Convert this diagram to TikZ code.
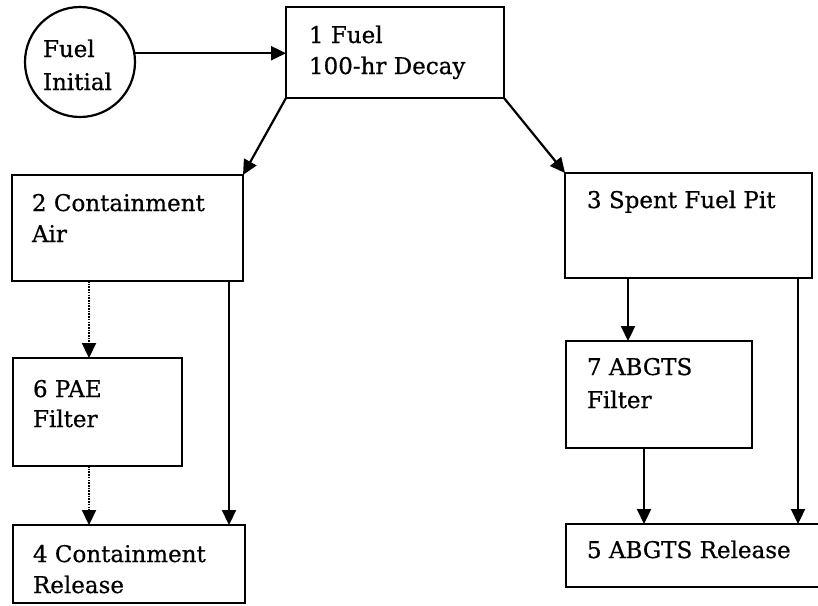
\documentclass[tikz,border=0pt]{standalone}
\usepackage{fontspec}
\setmainfont{DejaVu Serif}[UprightFeatures={FakeBold=0.6}]
\usetikzlibrary{arrows.meta}
\begin{document}
\begin{tikzpicture}[x=1pt,y=-1pt,
  box/.style={draw, line width=2.4pt, rectangle, inner sep=0pt, outer sep=0pt, anchor=north west},
  lbl/.style={anchor=base west, inner sep=0pt, outer sep=0pt, font=\fontsize{23}{31}\selectfont},
  arr/.style={line width=2.2pt, -{Triangle[length=15pt,width=14pt]}},
  dotarr/.style={line width=2.2pt, dash pattern=on 1.6pt off 1.1pt, -{Triangle[length=15pt,width=14pt]}}
]
\useasboundingbox[fill=white] (0,0) rectangle (818,605);

% boxes
\node[draw, circle, line width=2.2pt, minimum size=110pt, inner sep=0pt] (c0) at (80,62) {};
\node[box, minimum width=218pt, minimum height=91pt]  (b1) at (286,7) {};
\node[box, minimum width=231pt, minimum height=106pt] (b2) at (12,175) {};
\node[box, minimum width=247pt, minimum height=105pt] (b3) at (565,173) {};
\node[box, minimum width=169pt, minimum height=108pt] (b6) at (13,358) {};
\node[box, minimum width=232pt, minimum height=78pt]  (b4) at (13,525) {};
\node[box, minimum width=186pt, minimum height=107pt] (b7) at (566,341) {};
\node[box, minimum width=260pt, minimum height=63pt]  (b5) at (566,524) {};

% labels
\node[lbl] (t0) at (43,57) {\fontsize{23}{33}\selectfont\begin{tabular}[t]{@{}l@{}}Fuel\\Initial\end{tabular}};
\node[lbl] (t1) at ([xshift=23pt,yshift=-36pt]b1.north west) {\begin{tabular}[t]{@{}l@{}}1 Fuel\\100-hr Decay\end{tabular}};
\node[lbl] (t2) at ([xshift=20pt,yshift=-36pt]b2.north west) {\begin{tabular}[t]{@{}l@{}}2 Containment\\Air\end{tabular}};
\node[lbl] (t3) at ([xshift=22pt,yshift=-35pt]b3.north west) {3 Spent Fuel Pit};
\node[lbl] (t6) at ([xshift=20pt,yshift=-39pt]b6.north west) {\fontsize{23}{30}\selectfont\begin{tabular}[t]{@{}l@{}}6 PAE\\Filter\end{tabular}};
\node[lbl] (t4) at ([xshift=20pt,yshift=-37pt]b4.north west) {\begin{tabular}[t]{@{}l@{}}4 Containment\\Release\end{tabular}};
\node[lbl] (t7) at ([xshift=21pt,yshift=-34pt]b7.north west) {\fontsize{23}{33}\selectfont\begin{tabular}[t]{@{}l@{}}7 ABGTS\\Filter\end{tabular}};
\node[lbl] (t5) at ([xshift=21pt,yshift=-34pt]b5.north west) {5 ABGTS Release};

% connector start points
\coordinate (s26) at ([xshift=77pt]b2.south west);
\coordinate (s64) at ([xshift=76pt]b6.south west);
\coordinate (s24) at ([xshift=-14pt]b2.south east);
\coordinate (s37) at ([xshift=63pt]b3.south west);
\coordinate (s75) at ([xshift=78pt]b7.south west);
\coordinate (s35) at ([xshift=-14pt]b3.south east);

% connectors
\draw[arr] (c0.9) -- (c0.9 -| b1.west);
\draw[arr] (b1.south west) -- (b2.north east);
\draw[arr] (b1.south east) -- (b3.north west);
\draw[dotarr] (s26) -- (s26 |- b6.north);
\draw[dotarr] (s64) -- (s64 |- b4.north);
\draw[arr] (s24) -- (s24 |- b4.north);
\draw[arr] (s37) -- (s37 |- b7.north);
\draw[arr] (s75) -- (s75 |- b5.north);
\draw[arr] (s35) -- (s35 |- b5.north);
\end{tikzpicture}
\end{document}
